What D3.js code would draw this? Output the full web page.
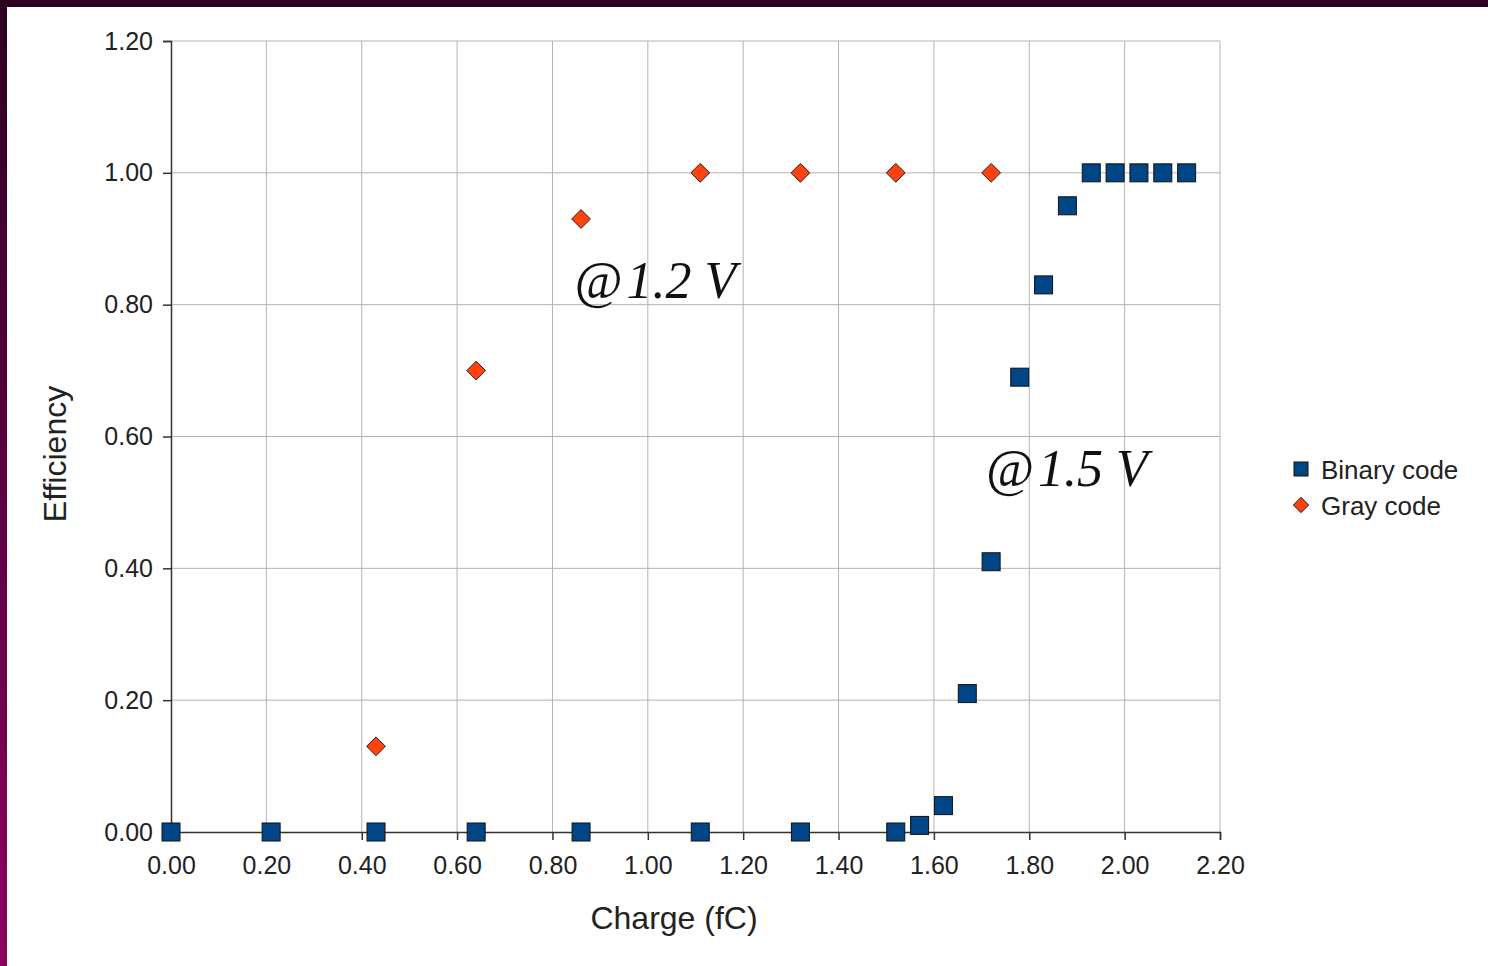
<!DOCTYPE html>
<html>
<head>
<meta charset="utf-8" />
<title>Efficiency vs charge</title>
<style>
  body { margin: 0; background: #fff; }
  svg { display: block; }
</style>
</head>
<body>
<svg id="chart"></svg>
<script src="https://cdn.jsdelivr.net/npm/d3@7"></script>
<script>

var binaryX = [0.00, 0.21, 0.43, 0.64, 0.86, 1.11, 1.32, 1.52, 1.57, 1.62, 1.67, 1.72, 1.78, 1.83, 1.88, 1.93, 1.98, 2.03, 2.08, 2.13];
var binaryY = [0, 0, 0, 0, 0, 0, 0, 0, 0.01, 0.04, 0.21, 0.41, 0.69, 0.83, 0.95, 1.00, 1.00, 1.00, 1.00, 1.00];
var grayX = [0.43, 0.64, 0.86, 1.11, 1.32, 1.52, 1.72];
var grayY = [0.13, 0.70, 0.93, 1.00, 1.00, 1.00, 1.00];
var xTicks = [0, 0.2, 0.4, 0.6, 0.8, 1.0, 1.2, 1.4, 1.6, 1.8, 2.0, 2.2];
var yTicks = [0, 0.2, 0.4, 0.6, 0.8, 1.0, 1.2];
var seriesNames = ["Binary code", "Gray code"];

var width = 1488, height = 966;
var svg = d3.select("#chart").attr("width", width).attr("height", height);

// purple frame on top and left
var defs = svg.append("defs");
var grad = defs.append("linearGradient").attr("id", "frame")
  .attr("x1", 0).attr("y1", 0).attr("x2", 0).attr("y2", 1);
grad.append("stop").attr("offset", "0%").attr("stop-color", "#2c0022");
grad.append("stop").attr("offset", "100%").attr("stop-color", "#8c005e");
svg.append("rect").attr("width", width).attr("height", height).attr("fill", "#fff");
svg.append("rect").attr("x", 0).attr("y", 0).attr("width", width).attr("height", 7).attr("fill", "#2c0022");
svg.append("rect").attr("x", 0).attr("y", 0).attr("width", 7).attr("height", height).attr("fill", "url(#frame)");

var x = d3.scaleLinear().domain([0, 2.2]).range([171, 1220]);
var y = d3.scaleLinear().domain([0, 1.2]).range([832, 41]);

var font = "'Liberation Sans', Arial, sans-serif";

// grid
svg.append("g").selectAll("line").data(xTicks.slice(1)).enter().append("line")
  .attr("x1", d => x(d)).attr("x2", d => x(d))
  .attr("y1", y(1.2)).attr("y2", y(0))
  .attr("stroke", "#b3b3b3").attr("stroke-width", 1);
svg.append("g").selectAll("line").data(yTicks.slice(1)).enter().append("line")
  .attr("x1", x(0)).attr("x2", x(2.2))
  .attr("y1", d => y(d)).attr("y2", d => y(d))
  .attr("stroke", "#b3b3b3").attr("stroke-width", 1);

// axes
var xAxis = svg.append("g").attr("transform", "translate(0," + y(0) + ")")
  .call(d3.axisBottom(x).tickValues(xTicks).tickFormat(d3.format(".2f")).tickSizeOuter(0).tickSize(8).tickPadding(11));
var yAxis = svg.append("g").attr("transform", "translate(" + x(0) + ",0)")
  .call(d3.axisLeft(y).tickValues(yTicks).tickFormat(d3.format(".2f")).tickSizeOuter(0).tickSize(8).tickPadding(10));
[xAxis, yAxis].forEach(function(a) {
  a.select(".domain").attr("stroke", "#333").attr("stroke-width", 1.5);
  a.selectAll(".tick line").attr("stroke", "#333").attr("stroke-width", 1.5);
  a.selectAll(".tick text").attr("font-family", font).attr("font-size", 25).attr("fill", "#222");
});
xAxis.selectAll(".tick text").attr("dy", "0.92em");

// axis titles
svg.append("text").attr("x", 674).attr("y", 929).attr("text-anchor", "middle")
  .attr("font-family", font).attr("font-size", 32).attr("fill", "#222").text("Charge (fC)");
svg.append("text").attr("transform", "translate(66,454) rotate(-90)").attr("text-anchor", "middle")
  .attr("font-family", font).attr("font-size", 32).attr("fill", "#222").text("Efficiency");

// points
var binary = binaryX.map((d, i) => ({x: d, y: binaryY[i]}));
var gray = grayX.map((d, i) => ({x: d, y: grayY[i]}));

svg.append("g").selectAll("path").data(gray).enter().append("path")
  .attr("d", d3.symbol().type(d3.symbolDiamond2).size(225))
  .attr("transform", d => "translate(" + x(d.x) + "," + y(d.y) + ")")
  .attr("fill", "#ff420e").attr("stroke", "#222").attr("stroke-width", 1);

svg.append("g").selectAll("rect").data(binary).enter().append("rect")
  .attr("x", d => x(d.x) - 9).attr("y", d => y(d.y) - 9)
  .attr("width", 18).attr("height", 18)
  .attr("fill", "#004586").attr("stroke", "#111").attr("stroke-width", 1);

// annotations
function note(px, py, volt) {
  var t = svg.append("text").attr("x", px).attr("y", py)
    .attr("font-family", "'Liberation Serif', 'Times New Roman', serif").attr("font-size", 52).attr("fill", "#111");
  t.append("tspan").text("@");
  t.append("tspan").attr("font-style", "italic").attr("dx", 4).text(volt);
}
note(x(0.857) - 5, y(0.80) - 7, "1.2 V");
note(x(1.72) - 5, y(0.52) - 3, "1.5 V");

// legend
var leg = svg.append("g").attr("transform", "translate(1301,469)");
leg.append("rect").attr("x", -7).attr("y", -7).attr("width", 14).attr("height", 14)
  .attr("fill", "#004586").attr("stroke", "#111").attr("stroke-width", 1);
leg.append("path").attr("d", d3.symbol().type(d3.symbolDiamond2).size(150))
  .attr("transform", "translate(0,36)")
  .attr("fill", "#ff420e").attr("stroke", "#222").attr("stroke-width", 1);
leg.selectAll("text").data(seriesNames).enter().append("text")
  .attr("x", 20).attr("y", (d, i) => i * 36 + 10)
  .attr("font-family", font).attr("font-size", 26).attr("fill", "#222")
  .text(d => d);

</script>
</body>
</html>
